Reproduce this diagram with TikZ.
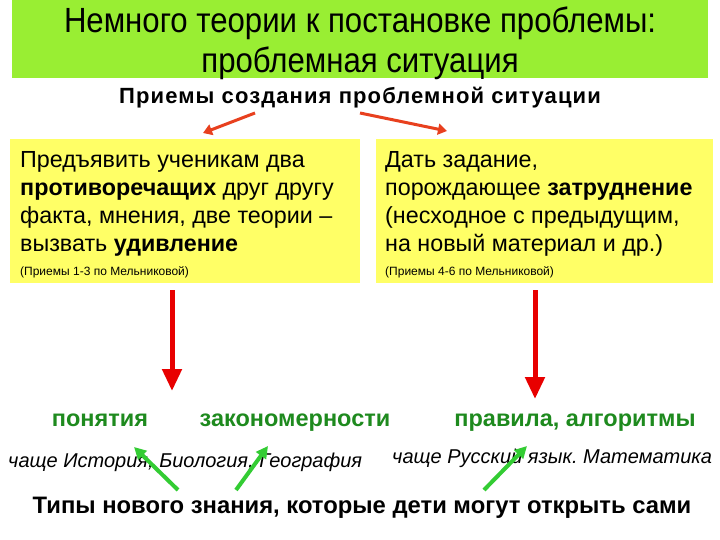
\documentclass[tikz,border=0pt]{standalone}
\usepackage{fontspec}
\setmainfont{Liberation Sans}
\newfontfamily\narrowfont[FakeStretch=0.89]{Liberation Sans}
\newfontfamily\spacedbold[LetterSpace=5]{Liberation Sans Bold}
\usetikzlibrary{arrows.meta}
\definecolor{titlegreen}{HTML}{99EE33}
\definecolor{boxyellow}{HTML}{FFFF66}
\definecolor{darkgreen}{HTML}{1E8A1E}
\definecolor{arrowgreen}{HTML}{33CC33}
\definecolor{orangered}{HTML}{E8401E}
\definecolor{vred}{HTML}{E80000}
\frenchspacing
\begin{document}
\begin{tikzpicture}[x=1pt,y=-1pt,
  ybox/.style={fill=boxyellow,draw=none,minimum width=#1,minimum height=144pt,inner sep=0pt,anchor=north west},
  boxline/.style={anchor=base west,inner sep=0pt,font=\fontsize{23.3}{27}\selectfont},
  smalltext/.style={anchor=base west,inner sep=0pt,font=\fontsize{12}{14}\selectfont},
  kind/.style={inner sep=0pt,anchor=base,text=darkgreen,font=\fontsize{23.5}{27}\selectfont\bfseries},
  subj/.style={inner sep=0pt,anchor=base west,font=\fontsize{20}{24}\selectfont\itshape},
  titleline/.style={inner sep=0pt,anchor=base,font=\fontsize{35}{40}\selectfont\narrowfont},
  toparrow/.style={draw=orangered,line width=3pt,-{Triangle[width=11pt,length=9pt]}},
  downarrow/.style={draw=vred,line width=5pt,-{Triangle[width=19pt,length=22pt]}},
  greenarrow/.style={draw=arrowgreen,line width=4pt,-{Triangle[width=12pt,length=12pt]}}]
\useasboundingbox (0,0) rectangle (720,540);
\fill[white] (0,0) rectangle (720,540);
% title
\node[fill=titlegreen,minimum width=696pt,minimum height=78pt,inner sep=0pt,anchor=north west] (title) at (12,0) {};
\node[titleline] (t1) at (360,33) {Немного теории к постановке проблемы:};
\node[titleline] (t2) at (360,73) {проблемная ситуация};
% subtitle
\node[inner sep=0pt,anchor=base,font=\fontsize{22}{24}\selectfont\spacedbold] (sub) at (360,104) {Приемы создания проблемной ситуации};
% boxes
\node[ybox=350pt] (lbox) at (10,139) {};
\node[ybox=337pt] (rbox) at (376,139) {};
\node[boxline] (l1) at (20,168) {Предъявить ученикам два};
\node[boxline] (l2) at (20,195.7) {\textbf{противоречащих} друг другу};
\node[boxline] (l3) at (20,223.4) {факта, мнения, две теории –};
\node[boxline] (l4) at (20,251.1) {вызвать \textbf{удивление}};
\node[smalltext] (lsmall) at (20,275) {(Приемы 1-3 по Мельниковой)};
\node[boxline] (r1) at (385,168) {Дать задание,};
\node[boxline] (r2) at (385,195.7) {порождающее \textbf{затруднение}};
\node[boxline] (r3) at (385,223.4) {(несходное с предыдущим,};
\node[boxline] (r4) at (385,251.1) {на новый материал и др.)};
\node[smalltext] (rsmall) at (385,275) {(Приемы 4-6 по Мельниковой)};
% top arrows
\coordinate (a1s) at (255,113);
\coordinate (a1e) at (203,133);
\coordinate (a2s) at (360,113);
\coordinate (a2e) at (447,131);
\draw[toparrow] (a1s) -- (a1e);
\draw[toparrow] (a2s) -- (a2e);
% down arrows
\coordinate (d1s) at (172,290);
\coordinate (d1e) at (172,391);
\coordinate (d2s) at (535,290);
\coordinate (d2e) at (535,399);
\draw[downarrow] (d1s) -- (d1e);
\draw[downarrow] (d2s) -- (d2e);
% kinds of knowledge
\node[kind] (k1) at (100,426) {понятия};
\node[kind] (k2) at (295,426) {закономерности};
\node[kind] (k3) at (575,426) {правила, алгоритмы};
% subjects
\node[subj] (s1) at (8,467) {чаще История, Биология, География};
\node[subj] (s2) at (392,463) {чаще Русский язык. Математика};
% bottom
\node[inner sep=0pt,anchor=base,font=\fontsize{23.8}{27}\selectfont\bfseries] (bottom) at (362,513) {Типы нового знания, которые дети могут открыть сами};
% green arrows
\coordinate (g1s) at (178,490);
\coordinate (g1e) at (134,447);
\coordinate (g2s) at (236,490);
\coordinate (g2e) at (268,446);
\coordinate (g3s) at (484,490);
\coordinate (g3e) at (527,446);
\draw[greenarrow] (g1s) -- (g1e);
\draw[greenarrow] (g2s) -- (g2e);
\draw[greenarrow] (g3s) -- (g3e);
\end{tikzpicture}
\end{document}
